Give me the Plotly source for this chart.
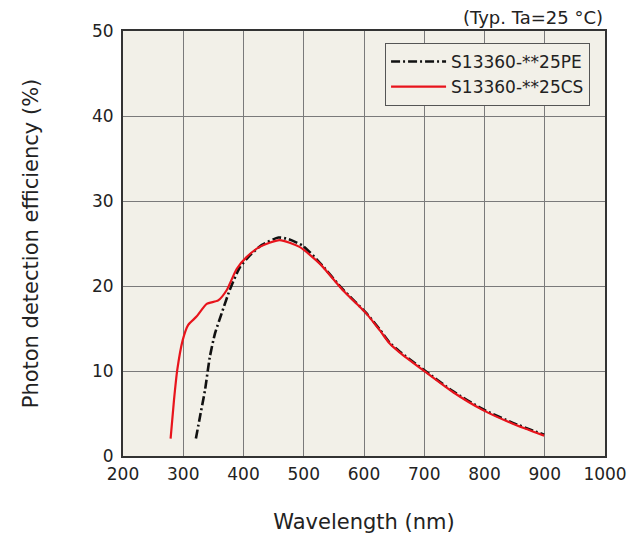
import plotly.graph_objects as go

# S13360-**25CS (red)
cs_wl = [279, 284.6, 290, 299, 308, 322, 339, 358, 372, 388.6, 405, 427, 460, 493, 527, 565, 604, 626, 643, 659, 698, 748, 797.5, 847, 899]
cs_pde = [2.05, 6.55, 10.1, 13.6, 15.4, 16.4, 17.9, 18.3, 19.5, 22.0, 23.4, 24.6, 25.4, 24.6, 22.6, 19.5, 16.75, 14.8, 13.2, 12.2, 10.1, 7.5, 5.4, 3.8, 2.4]

# S13360-**25PE (black)
pe_wl = [321, 327.7, 336, 344, 352.6, 363.6, 377, 394, 410.6, 430, 458, 475, 499, 527, 565, 604, 626, 643, 659, 698, 748, 797.5, 847, 899]
pe_pde = [2.05, 4.6, 7.7, 11.6, 14.4, 16.75, 19.5, 22.2, 23.6, 24.8, 25.7, 25.5, 24.7, 22.7, 19.6, 16.8, 14.9, 13.3, 12.3, 10.2, 7.6, 5.5, 3.9, 2.5]

x_ticks = [200, 300, 400, 500, 600, 700, 800, 900, 1000]
y_ticks = [0, 10, 20, 30, 40, 50]

font_family = "DejaVu Sans, Verdana, sans-serif"

fig = go.Figure()
fig.add_trace(go.Scatter(x=pe_wl, y=pe_pde, mode="lines", name="S13360-**25PE",
                         line=dict(color="#111111", width=2.6, dash="9px,3px,2px,3px", shape="spline", smoothing=0.6)))
fig.add_trace(go.Scatter(x=cs_wl, y=cs_pde, mode="lines", name="S13360-**25CS",
                         line=dict(color="#e8141c", width=2.2, shape="spline", smoothing=0.6)))

axis_common = dict(showline=True, linecolor="#333333", linewidth=2, mirror=True,
                   showgrid=True, gridcolor="#7a7a7a", gridwidth=1, zeroline=False,
                   automargin=False,
                   ticks="", tickfont=dict(size=17, color="#222222", family=font_family))

fig.update_layout(
    width=630, height=534,
    margin=dict(l=123, r=25, t=31, b=78),
    paper_bgcolor="white", plot_bgcolor="#f2f0e8",
    font=dict(family=font_family, color="#222222"),
    xaxis=dict(range=[200, 1000], tickvals=x_ticks, ticktext=[str(v) for v in x_ticks],
               ticklabelstandoff=2,
               title=dict(text="Wavelength (nm)", font=dict(size=21), standoff=34), **axis_common),
    yaxis=dict(range=[0, 50], tickvals=y_ticks, ticktext=[str(v) for v in y_ticks],
               ticklabelstandoff=4,
               title=dict(text="Photon detection efficiency (%)", font=dict(size=21), standoff=48), **axis_common),
    legend=dict(x=0.969, y=0.972, xanchor="right", yanchor="top",
                bgcolor="#f2f0e8", bordercolor="#555555", borderwidth=1,
                font=dict(size=17, color="#222222"), tracegroupgap=0, itemwidth=55,
                entrywidthmode="pixels"),
    showlegend=True,
)
fig.add_annotation(text="(Typ. Ta=25 °C)", xref="paper", yref="paper", x=1.0, y=1.0,
                   xanchor="right", yanchor="bottom", showarrow=False,
                   font=dict(size=18, color="#222222"), yshift=1)

fig.write_html("out.html")
